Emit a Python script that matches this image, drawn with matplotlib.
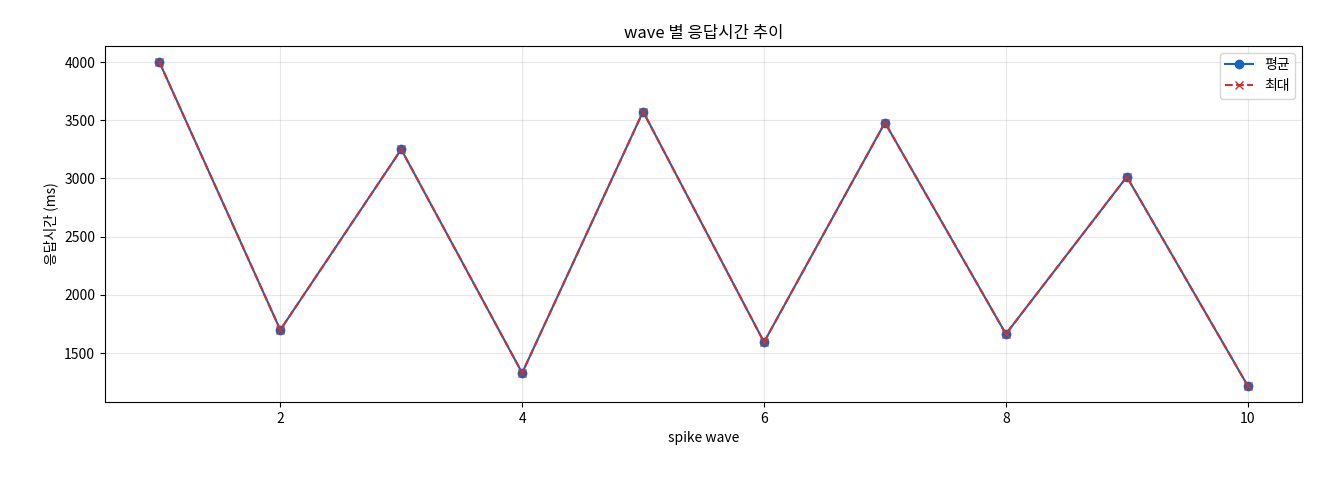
import matplotlib
matplotlib.use("Agg")
import matplotlib.pyplot as plt

plt.rcParams['font.family'] = ['Noto Sans CJK KR', 'DejaVu Sans']

waves = [1, 2, 3, 4, 5, 6, 7, 8, 9, 10]
avg_ms = [4000, 1700, 3250, 1330, 3575, 1595, 3480, 1665, 3015, 1220]
max_ms = [4000, 1700, 3250, 1330, 3575, 1595, 3480, 1665, 3015, 1220]

fig = plt.figure(figsize=(13.2, 4.8), dpi=100)
ax = fig.add_axes([0.0795, 0.1625, 0.907, 0.742])
ax.plot(waves, avg_ms, '-o', color='#1565c0', label='평균', markersize=6)
ax.plot(waves, max_ms, '--x', color='#d32f2f', label='최대', markersize=6)
ax.set_title('wave 별 응답시간 추이', fontsize=12)
ax.set_xlabel('spike wave', fontsize=10)
ax.set_ylabel('응답시간 (ms)', fontsize=10)
ax.grid(True, alpha=0.3)
ax.legend(loc='upper right')
fig.savefig('out.png', dpi=100)
